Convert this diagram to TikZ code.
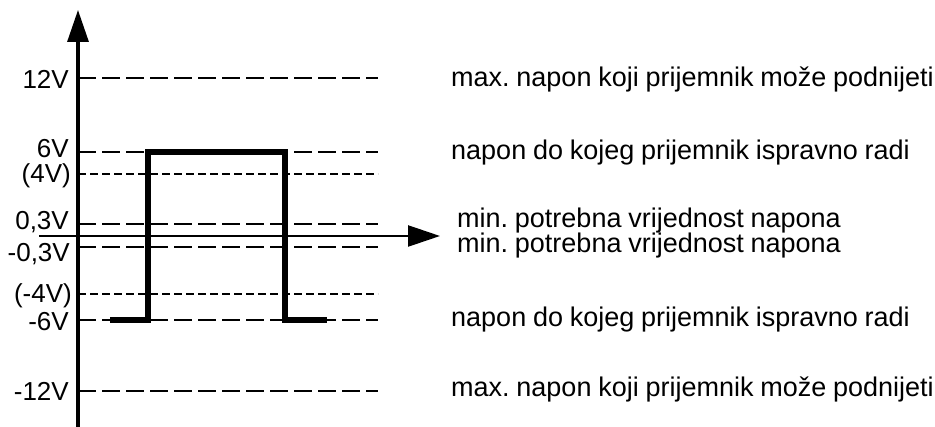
\documentclass[tikz,border=0pt]{standalone}
\usepackage{fontspec}
\setmainfont{Liberation Sans}[WordSpace=0.9]
\usetikzlibrary{arrows.meta, positioning}

\tikzset{
  level/.style={line width=2pt, dash pattern=on 18pt off 6pt},
  sublevel/.style={line width=1.8pt, dash pattern=on 8pt off 4pt},
  axis/.style={-{Triangle[length=32pt,width=21pt]}},
  pulse/.style={line width=5.5pt},
  vlabel/.style={anchor=base east, inner sep=0pt, font=\fontsize{26}{28}\selectfont},
  note/.style={anchor=base west, inner sep=0pt, font=\fontsize{27}{30}\selectfont\frenchspacing}
}

\begin{document}
\begin{tikzpicture}[x=1pt, y=-1pt]
\useasboundingbox (0,0) rectangle (935,427);

% voltage labels
\node[vlabel] (L12) at (69, 89) {12V};
\node[vlabel] (L6) at (69, 158) {6V};
\node[vlabel] (L4) at (71, 183) {(4V)};
\node[vlabel] (L03) at (69, 230) {0,3V};
\node[vlabel] (Lm03) at (70, 262) {-0,3V};
\node[vlabel] (Lm4) at (72, 303) {(-4V)};
\node[vlabel] (Lm6) at (69, 331) {-6V};
\node[vlabel] (Lm12) at (69, 401) {-12V};

% notes
\node[note] (N12) at (451, 87) {max. napon koji prijemnik može podnijeti};
\node[note] (N6) at (451, 160) {napon do kojeg prijemnik ispravno radi};
\node[note] (N03) at (457, 228) {min. potrebna vrijednost napona};
\node[note] (Nm03) at (457, 253) {min. potrebna vrijednost napona};
\node[note] (Nm6) at (451, 327) {napon do kojeg prijemnik ispravno radi};
\node[note] (Nm12) at (451, 397) {max. napon koji prijemnik može podnijeti};

% levels
\foreach \y/\n in {78/p12, 152/p6, 224/p03, 247/m03, 320/m6, 391/m12} {
  \coordinate (\n a) at (78, \y);
  \coordinate (\n b) at (378, \y);
  \draw[level] (\n a) -- (\n b);
}
\foreach \y/\n in {174/p4, 294/m4} {
  \coordinate (\n a) at (78, \y);
  \coordinate (\n b) at (378, \y);
  \draw[sublevel] (\n a) -- (\n b);
}

% axes
\coordinate (O1) at (78, 427);
\coordinate (U) at (78, 10);
\coordinate (O2) at (39, 236);
\coordinate (T) at (440, 236);
\draw[axis, line width=3.2pt] (O1) -- (U);
\draw[axis, line width=2.4pt] (O2) -- (T);

% pulse
\coordinate (P1) at (110, 320);
\coordinate (P2) at (148, 320);
\coordinate (P3) at (148, 152);
\coordinate (P4) at (285, 152);
\coordinate (P5) at (285, 320);
\coordinate (P6) at (327, 320);
\draw[pulse] (P1) -- (P2) -- (P3) -- (P4) -- (P5) -- (P6);

\end{tikzpicture}
\end{document}
